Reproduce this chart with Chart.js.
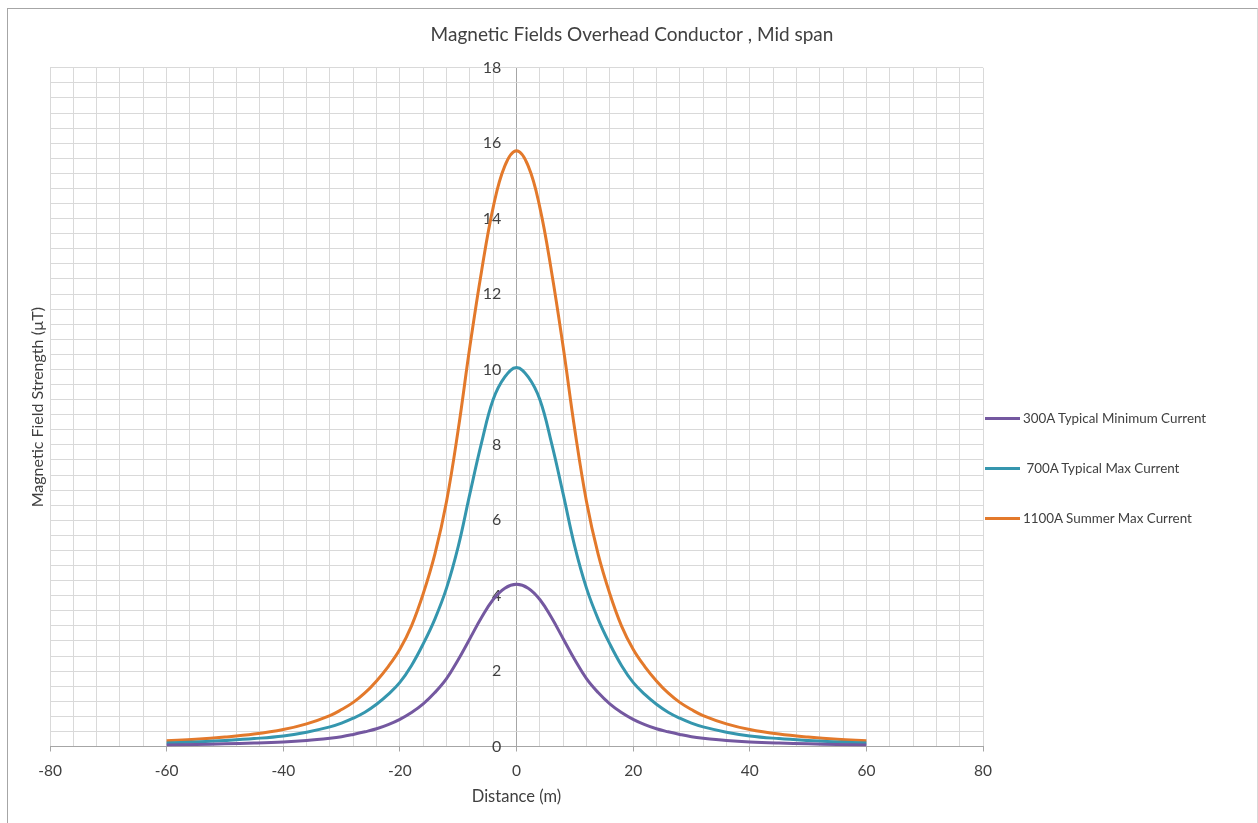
<!DOCTYPE html>
<html>
<head>
<meta charset="utf-8">
<title>Magnetic Fields Overhead Conductor</title>
<script src="https://cdn.jsdelivr.net/npm/chart.js@4.4.0/dist/chart.umd.min.js"></script>
<style>
  html, body { margin: 0; padding: 0; background: #fff; }
  #wrap { position: relative; width: 1258px; height: 823px; overflow: hidden; }
  #frame { position: absolute; left: 7px; top: 8px; width: 1249px; height: 830px;
    border-top: 1px solid #a6a6a6; border-left: 1px solid #a6a6a6; border-right: 1px solid #d9d9d9; }
  canvas { position: absolute; left: 0; top: 0; }
  #legend { position: absolute; left: 985px; top: 408px; font: 13.4px Lato, sans-serif; color: #404040; }
  .item { display: flex; align-items: center; height: 20px; margin-bottom: 30px; white-space: pre; }
  .swatch { width: 35px; height: 3px; margin-right: 3px; }
</style>
</head>
<body>
<div id="wrap">
  <div id="frame"></div>
  <canvas id="fieldChart" width="1258" height="823"></canvas>
  <div id="legend"></div>
</div>
<script>
// Values
const chartTitle = "Magnetic Fields Overhead Conductor , Mid span"
const distance = [-60, -55, -50, -45, -40, -36, -32, -30, -28, -26, -24, -22, -20, -18, -16, -14, -12, -10, -8, -6, -4, -2,
  0, 2, 4, 6, 8, 10, 12, 14, 16, 18, 20, 22, 24, 26, 28, 30, 32, 36, 40, 45, 50, 55, 60]
const current300 = [0.04, 0.05, 0.07, 0.09, 0.12, 0.16, 0.22, 0.26, 0.32, 0.39, 0.47, 0.58, 0.72, 0.9, 1.13, 1.43, 1.8, 2.3, 2.86, 3.42, 3.9, 4.2,
  4.3, 4.2, 3.9, 3.42, 2.86, 2.3, 1.8, 1.43, 1.13, 0.9, 0.72, 0.58, 0.47, 0.39, 0.32, 0.26, 0.22, 0.16, 0.12, 0.09, 0.07, 0.05, 0.04]
const current700 = [0.09, 0.12, 0.16, 0.21, 0.28, 0.38, 0.52, 0.62, 0.75, 0.91, 1.12, 1.38, 1.7, 2.15, 2.72, 3.38, 4.2, 5.3, 6.7, 8.05, 9.2, 9.8,
  10.05, 9.8, 9.2, 8.05, 6.7, 5.3, 4.2, 3.38, 2.72, 2.15, 1.7, 1.38, 1.12, 0.91, 0.75, 0.62, 0.52, 0.38, 0.28, 0.21, 0.16, 0.12, 0.09]
const current1100 = [0.15, 0.19, 0.25, 0.33, 0.45, 0.6, 0.82, 0.98, 1.17, 1.42, 1.74, 2.12, 2.58, 3.2, 4.05, 5.1, 6.5, 8.4, 10.6, 12.6, 14.3, 15.4,
  15.8, 15.4, 14.3, 12.6, 10.6, 8.4, 6.5, 5.1, 4.05, 3.2, 2.58, 2.12, 1.74, 1.42, 1.17, 0.98, 0.82, 0.6, 0.45, 0.33, 0.25, 0.19, 0.15]
const seriesNames = ["300A Typical Minimum Current", " 700A Typical Max Current", "1100A Summer Max Current"]
const seriesColors = ["#7458a0", "#3596ae", "#e3792b"]

const toPoints = (values) => values.map((v, i) => ({ x: distance[i], y: v }))
const seriesValues = [current300, current700, current1100]

const textColor = "#404040"
const gridColor = "#d9d9d9"
const axisColor = "#a6a6a6"

const fieldChart = new Chart(document.getElementById("fieldChart"), {
  type: "line",
  data: {
    datasets: seriesValues.map((values, i) => ({
      label: seriesNames[i],
      data: toPoints(values),
      borderColor: seriesColors[i],
      backgroundColor: seriesColors[i],
      borderWidth: 3,
      pointRadius: 0,
      tension: 0.4,
      fill: false,
      yAxisID: "y",
    })),
  },
  options: {
    responsive: false,
    animation: false,
    layout: { padding: { left: 18, right: 12, top: 8, bottom: 0 } },
    plugins: {
      legend: { display: false },
      tooltip: { enabled: false },
      title: {
        display: true,
        text: chartTitle,
        color: textColor,
        font: { family: "Lato", size: 19, weight: "normal" },
        padding: { top: 15, bottom: 22 },
      },
    },
    scales: {
      x: {
        type: "linear",
        min: -80,
        max: 80,
        afterFit: (scale) => { scale.height = 76.5 },
        grid: {
          color: (ctx) => (ctx.tick && ctx.tick.value === 0 ? axisColor : gridColor),
          tickColor: (ctx) => (ctx.tick && ctx.tick.value % 20 === 0 ? axisColor : "rgba(0,0,0,0)"),
          tickLength: 5,
        },
        border: { color: axisColor },
        ticks: {
          stepSize: 4,
          autoSkip: false,
          maxRotation: 0,
          padding: 10,
          color: textColor,
          font: { family: "Lato", size: 15.5 },
          callback: (value) => (value % 20 === 0 ? String(value) : ""),
        },
        title: {
          display: true,
          text: "Distance (m)",
          color: textColor,
          font: { family: "Lato", size: 16.5 },
          padding: { top: 0, bottom: 16 },
        },
      },
      y: {
        type: "linear",
        position: { x: -2.6 },
        min: 0,
        max: 18,
        grid: { color: gridColor, drawTicks: false },
        border: { display: false },
        ticks: {
          stepSize: 0.4,
          maxTicksLimit: 100,
          autoSkip: false,
          color: textColor,
          font: { family: "Lato", size: 16 },
          callback: (value) => {
            const r = Math.round(value * 10) / 10
            return Math.abs(r % 2) < 1e-9 ? String(r) : ""
          },
        },
      },
      yTitle: {
        type: "linear",
        position: "left",
        min: 0,
        max: 1,
        afterFit: (scale) => { scale.width = 32 },
        grid: { display: false },
        border: { display: false },
        ticks: { display: false },
        title: {
          display: true,
          text: "Magnetic Field Strength (µT)",
          color: textColor,
          font: { family: "Lato", size: 16 },
          padding: { top: 10, bottom: 4 },
        },
      },
      legendSpace: {
        type: "linear",
        position: "right",
        min: 0,
        max: 1,
        afterFit: (scale) => { scale.width = 263 },
        grid: { display: false },
        border: { display: false },
        ticks: { display: false },
      },
    },
  },
})

// Legend built from the dataset names and colours
const legendBox = document.getElementById("legend")
seriesNames.forEach((name, i) => {
  const item = document.createElement("div")
  item.className = "item"
  const swatch = document.createElement("span")
  swatch.className = "swatch"
  swatch.style.background = seriesColors[i]
  const label = document.createElement("span")
  label.textContent = name
  item.appendChild(swatch)
  item.appendChild(label)
  legendBox.appendChild(item)
})
</script>
</body>
</html>
